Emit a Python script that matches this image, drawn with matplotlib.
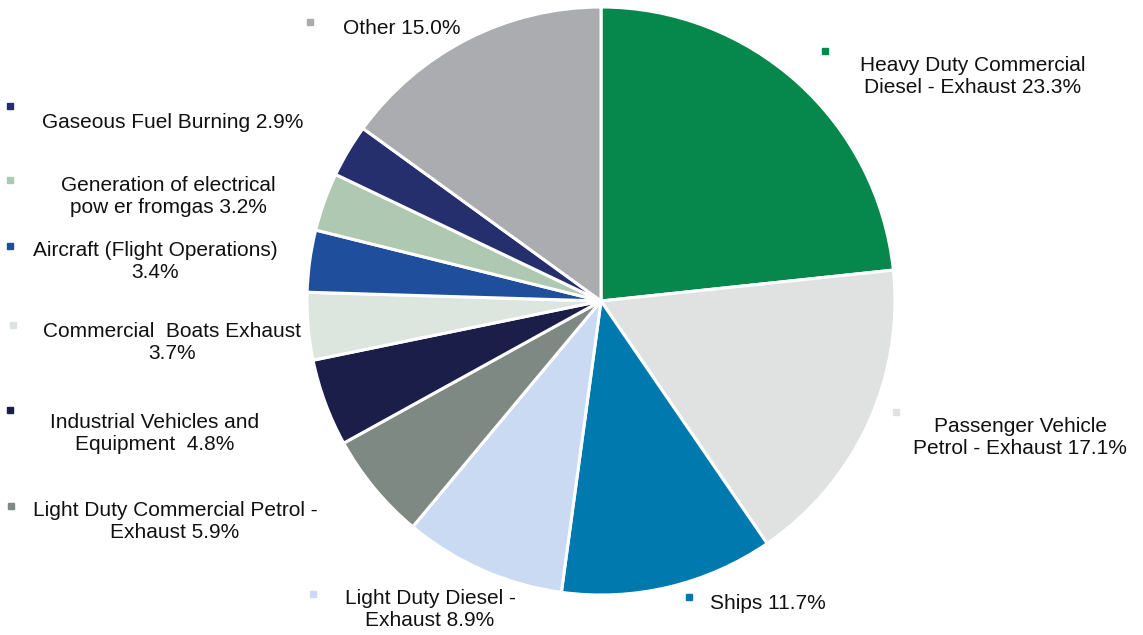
import matplotlib
matplotlib.use("Agg")
import matplotlib.pyplot as plt

# Emission sources (clockwise from 12 o'clock)
sources = [
    "Heavy Duty Commercial\nDiesel - Exhaust",
    "Passenger Vehicle\nPetrol - Exhaust",
    "Ships",
    "Light Duty Diesel -\nExhaust",
    "Light Duty Commercial Petrol -\nExhaust",
    "Industrial Vehicles and\nEquipment ",
    "Commercial  Boats Exhaust\n",
    "Aircraft (Flight Operations)\n",
    "Generation of electrical\npow er fromgas",
    "Gaseous Fuel Burning",
    "Other",
]
shares = [23.3, 17.1, 11.7, 8.9, 5.9, 4.8, 3.7, 3.4, 3.2, 2.9, 15.0]
colors = ["#06874B", "#E0E2E1", "#0079AE", "#C9DAF2", "#7F8983", "#1B1E48",
          "#DDE6DE", "#1F4F9C", "#AFC8B1", "#252F6E", "#ABACB0"]

# label layout in pixels: text centre x, first line y, marker x, marker y, align
label_pos = [
    (973, 65, 825, 51, "center"),
    (1020, 426, 896, 412, "center"),
    (710, 603, 689, 597, "left"),
    (430, 598, 313, 594, "center"),
    (175, 510, 11, 506, "center"),
    (155, 422, 10, 410, "center"),
    (172, 331, 13, 325, "center"),
    (155, 250, 10, 246, "center"),
    (168, 185, 10, 180, "center"),
    (173, 122, 10, 106, "center"),
    (402, 28, 310, 22, "center"),
]

W, H = 1143, 635
plt.rcParams['font.family'] = ['Liberation Sans', 'DejaVu Sans']
fig = plt.figure(figsize=(W / 100, H / 100), dpi=100)

cx, cy, r = 601, 301, 294
ax = fig.add_axes([(cx - r) / W, (H - cy - r) / H, 2 * r / W, 2 * r / H])
ax.pie(shares, colors=colors, startangle=90, counterclock=False, radius=1,
       wedgeprops=dict(edgecolor="white", linewidth=2.2))
ax.set_xlim(-1, 1)
ax.set_ylim(-1, 1)
ax.set_aspect("equal")
ax.axis("off")

for name, val, col, (tx, ty, mx, my, ha) in zip(sources, shares, colors, label_pos):
    lines = name.split("\n")
    if lines[-1] == "":
        txt = lines[0] + "\n" + f"{val:.1f}%"
    else:
        txt = name + f" {val:.1f}%"
    fig.text(tx / W, 1 - (ty - 9) / H, txt, ha=ha, va="top", fontsize=15,
             multialignment="center", linespacing=1.22, color="#111111")
    fig.patches.append(plt.Rectangle(((mx - 3) / W, 1 - (my + 3) / H), 6 / W, 6 / H,
                                     transform=fig.transFigure, color=col))

fig.savefig("out.png", dpi=100)
